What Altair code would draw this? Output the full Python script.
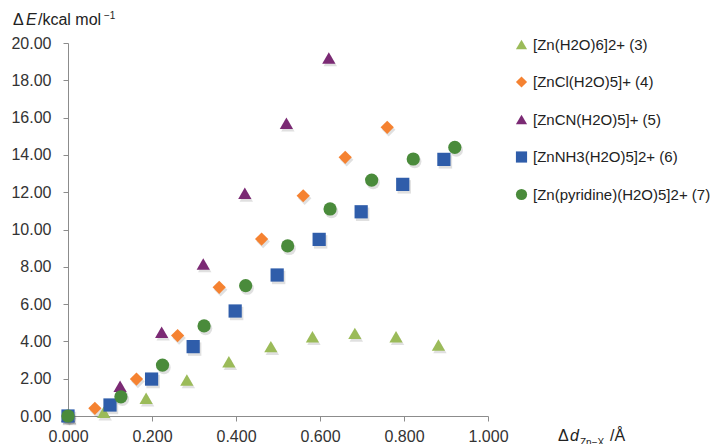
import altair as alt
import pandas as pd

names = ["[Zn(H2O)6]2+ (3)", "[ZnCl(H2O)5]+ (4)", "[ZnCN(H2O)5]+ (5)",
         "[ZnNH3(H2O)5]2+ (6)", "[Zn(pyridine)(H2O)5]2+ (7)"]

s3_x = [0.0, 0.085, 0.186, 0.283, 0.383, 0.483, 0.582, 0.683, 0.781, 0.882]
s3_y = [0.0, 0.20, 0.95, 1.93, 2.91, 3.72, 4.25, 4.43, 4.25, 3.81]
s4_x = [0.0, 0.064, 0.163, 0.261, 0.360, 0.461, 0.560, 0.660, 0.760]
s4_y = [0.0, 0.41, 1.98, 4.31, 6.90, 9.49, 11.81, 13.87, 15.48]
s5_x = [0.0, 0.124, 0.223, 0.322, 0.421, 0.520, 0.621]
s5_y = [0.0, 1.60, 4.49, 8.15, 11.94, 15.70, 19.20]
s6_x = [0.0, 0.100, 0.199, 0.298, 0.398, 0.498, 0.598, 0.698, 0.797, 0.895]
s6_y = [0.0, 0.59, 1.98, 3.72, 5.63, 7.56, 9.47, 10.95, 12.42, 13.76]
s7_x = [0.0, 0.126, 0.225, 0.324, 0.423, 0.523, 0.624, 0.723, 0.822, 0.921]
s7_y = [0.0, 1.03, 2.73, 4.83, 6.99, 9.12, 11.10, 12.65, 13.78, 14.40]

colors = ["#9BBB59", "#F58231", "#7B2A74", "#2F5DAA", "#4A8B3B"]
shapes = ["triangle-up", "diamond", "triangle-up", "square", "circle"]

x_ticks = [0.0, 0.2, 0.4, 0.6, 0.8, 1.0]
y_ticks = [0, 2, 4, 6, 8, 10, 12, 14, 16, 18, 20]

rows = []
for i, (xs, ys) in enumerate([(s3_x, s3_y), (s4_x, s4_y), (s5_x, s5_y), (s6_x, s6_y), (s7_x, s7_y)]):
    for xv, yv in zip(xs, ys):
        rows.append({"series": names[i], "order": i, "dx": xv, "dE": yv})
df = pd.DataFrame(rows)

FONT = "Liberation Sans"

x_enc = alt.X("dx:Q", scale=alt.Scale(domain=[0, 1], nice=False),
              axis=alt.Axis(values=x_ticks, format=".3f", title=None, grid=False,
                            tickSize=5, labelPadding=7, labelFontSize=16, labelFont=FONT,
                            labelColor="#333333", domainColor="#8c8c8c", tickColor="#8c8c8c",
                            labelFlush=False))
y_enc = alt.Y("dE:Q", scale=alt.Scale(domain=[0, 20], nice=False),
              axis=alt.Axis(values=y_ticks, format=".2f", title=None, grid=False,
                            tickSize=5, labelPadding=12, labelFontSize=16, labelFont=FONT,
                            labelColor="#333333", domainColor="#8c8c8c", tickColor="#8c8c8c",
                            labelFlush=False))

leg = alt.Legend(title=None, orient="none", legendX=446, legendY=-6,
                 labelFontSize=15, labelFont=FONT, labelColor="#222222",
                 symbolSize=125, symbolStrokeWidth=0, symbolOpacity=1, rowPadding=21.5,
                 labelOffset=4, labelLimit=400, padding=0)

shape_scale = alt.Scale(domain=names, range=shapes)
color_scale = alt.Scale(domain=names, range=colors)

shadow = alt.Chart(df).mark_point(filled=True, opacity=0.18, xOffset=1.5, yOffset=2.5, size=180).encode(
    x=x_enc, y=y_enc,
    shape=alt.Shape("series:N", scale=shape_scale, legend=leg),
    color=alt.value("#555555"),
)

points = alt.Chart(df).mark_point(filled=True, opacity=1, size=175).encode(
    x=x_enc, y=y_enc,
    color=alt.Color("series:N", scale=color_scale, legend=leg),
    shape=alt.Shape("series:N", scale=shape_scale, legend=leg),
    order=alt.Order("order:Q"),
)

def label(txt, x, y, size=16, style="normal"):
    return alt.Chart(pd.DataFrame({"t": [txt]})).mark_text(
        align="left", baseline="alphabetic", font=FONT, fontSize=size,
        fontStyle=style, color="#222222"
    ).encode(x=alt.value(x), y=alt.value(y), text="t:N")

titles = [
    label("Δ", -55, -18),
    label("E", -42, -18, style="italic"),
    label("/kcal mol", -30, -18),
    label("−1", 36, -24, size=10),
    label("Δ", 490, 398),
    label("d", 502, 398, style="italic"),
    label("Zn−X", 512, 403, size=10),
    label("/Å", 542, 398),
]

chart = alt.layer(shadow, points, *titles).properties(
    width=420, height=373,
    padding={"left": 60, "top": 35, "right": 231, "bottom": 28},
    autosize=alt.AutoSizeParams(type="none"),
    background="white",
).configure_view(stroke=None)

chart.save("out.html", embed_options={"renderer": "svg", "actions": False})
